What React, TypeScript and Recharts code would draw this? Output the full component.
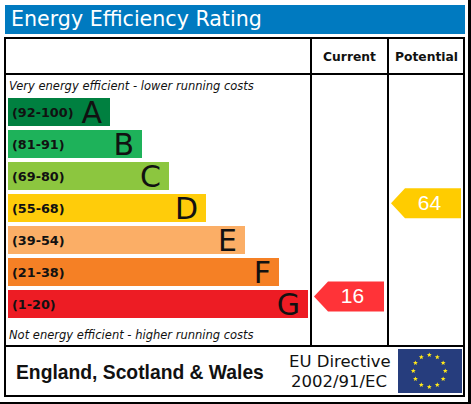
import { BarChart, Bar, Cell, LabelList, XAxis, YAxis, ScatterChart, Scatter } from "recharts";

const BAND_LETTERS = ["A", "B", "C", "D", "E", "F", "G"];
const BAND_RANGES = ["(92-100)", "(81-91)", "(69-80)", "(55-68)", "(39-54)", "(21-38)", "(1-20)"];
const BAND_LENGTHS = [102, 134, 161, 198, 237, 271, 300];
const BAND_COLORS = ["#008040", "#1eb25a", "#8cc63f", "#ffcc0a", "#fbae66", "#f58025", "#ed1c24"];

const RATING_COLUMNS = ["Current", "Potential"];
const RATING_SCORES = [16, 64];
const RATING_COLORS = ["#ff3338", "#ffcc00"];

const bandData = BAND_LETTERS.map((letter, i) => ({
  letter,
  range: BAND_RANGES[i],
  length: BAND_LENGTHS[i],
}));

const ratingData = RATING_COLUMNS.map((column, i) => ({
  column,
  score: RATING_SCORES[i],
  color: RATING_COLORS[i],
}));

const VERDANA = "'DejaVu Sans', sans-serif";
const ARIAL = "'Liberation Sans', sans-serif";

function RatingFlag(props: any) {
  const { cx, cy, payload } = props;
  const left = cx - 35.5;
  const right = cx + 34.5;
  const points = [
    [left, cy],
    [left + 14, cy - 15],
    [right, cy - 15],
    [right, cy + 15],
    [left + 14, cy + 15],
  ];
  return (
    <g>
      <polygon points={points.map((p) => p.join(",")).join(" ")} fill={payload.color} />
      <text x={cx + 3} y={cy + 7} textAnchor="middle" fill="#fff" fontSize={21} fontFamily={ARIAL}>
        {payload.score}
      </text>
    </g>
  );
}

function EuFlag() {
  const stars = Array.from({ length: 12 }, (_, i) => {
    const a = (i * Math.PI) / 6;
    const cx = 31.3 + 16 * Math.sin(a);
    const cy = 22 - 16 * Math.cos(a);
    const pts = Array.from({ length: 10 }, (_, k) => {
      const r = k % 2 === 0 ? 2.6 : 1.1;
      const t = (k * Math.PI) / 5;
      return `${cx + r * Math.sin(t)},${cy - r * Math.cos(t)}`;
    });
    return pts.join(" ");
  });
  return (
    <svg width={64} height={44} style={{ position: "absolute", left: 398, top: 349 }}>
      <rect width={64} height={44} fill="#263d7d" />
      {stars.map((s, i) => (
        <polygon key={i} points={s} fill="#ffe81a" />
      ))}
    </svg>
  );
}

function Line({ x, y, w, h }: { x: number; y: number; w: number; h: number }) {
  return <div style={{ position: "absolute", left: x, top: y, width: w, height: h, background: "#000" }} />;
}

function Label({ x, y, text, style }: { x: number; y: number; text: string; style: React.CSSProperties }) {
  return (
    <div style={{ position: "absolute", left: x, top: y, whiteSpace: "nowrap", lineHeight: 1, ...style }}>{text}</div>
  );
}

export default function App() {
  return (
    <div style={{ position: "absolute", left: 0, top: 0, width: 471, height: 404, background: "#fff", overflow: "hidden" }}>
      {/* title strip */}
      <div style={{ position: "absolute", left: 5, top: 5, width: 460, height: 29, background: "#007ac0" }} />
      <Label x={11} y={9} text="Energy Efficiency Rating" style={{ color: "#fff", fontFamily: VERDANA, fontSize: 20.6 }} />

      {/* outer edges and table rules */}
      <Line x={468} y={0} w={3} h={404} />
      <Line x={0} y={402} w={471} h={2} />
      <Line x={4} y={37} w={461} h={2} />
      <Line x={4} y={37} w={2} h={360} />
      <Line x={463} y={37} w={2} h={360} />
      <Line x={4} y={395} w={461} h={2} />
      <Line x={4} y={73} w={461} h={2} />
      <Line x={4} y={345} w={461} h={2} />
      <Line x={310} y={37} w={2} h={310} />
      <Line x={387} y={37} w={2} h={310} />

      <Label x={9} y={81} text="Very energy efficient - lower running costs" style={{ fontFamily: VERDANA, fontStyle: "italic", fontSize: 11.5, color: "#111" }} />
      <Label x={9} y={330} text="Not energy efficient - higher running costs" style={{ fontFamily: VERDANA, fontStyle: "italic", fontSize: 11.5, color: "#111" }} />

      <div style={{ position: "absolute", left: 8, top: 88 }}>
        <BarChart
          width={308}
          height={240}
          layout="vertical"
          data={bandData}
          margin={{ top: 8, right: 8, bottom: 8, left: 0 }}
        >
          <XAxis type="number" domain={[0, 300]} hide />
          <YAxis type="category" dataKey="letter" hide />
          <Bar dataKey="length" barSize={28} isAnimationActive={false}>
            {bandData.map((d, i) => (
              <Cell key={d.letter} fill={BAND_COLORS[i]} />
            ))}
            <LabelList dataKey="range" position="insideLeft" offset={4} fill="#111" fontSize={12.8} fontWeight="bold" fontFamily={VERDANA} />
            <LabelList dataKey="letter" position="insideRight" offset={8} fill="#111" fontSize={30} fontFamily={VERDANA} />
          </Bar>
        </BarChart>
      </div>

      <div style={{ position: "absolute", left: 311, top: 39 }}>
        <ScatterChart width={154} height={308} margin={{ top: 0, right: 0, bottom: 0, left: 0 }}>
          <XAxis
            xAxisId={0}
            type="category"
            dataKey="column"
            orientation="top"
            height={36}
            scale="band"
            allowDuplicatedCategory={false}
            axisLine={false}
            tickLine={false}
            tick={{ fill: "#111", fontSize: 12.3, fontWeight: "bold", fontFamily: VERDANA }}
            tickMargin={8}
            interval={0}
          />
          <YAxis yAxisId={0} type="number" dataKey="score" domain={[-10, 130]} hide />
          <Scatter data={ratingData} shape={RatingFlag} isAnimationActive={false} />
        </ScatterChart>
      </div>

      {/* footer */}
      <Label x={16} y={363} text="England, Scotland & Wales" style={{ fontFamily: ARIAL, fontWeight: "bold", fontSize: 19.3, color: "#111" }} />
      <Label x={289} y={354} text="EU Directive" style={{ fontFamily: VERDANA, fontSize: 16.5, color: "#111" }} />
      <Label x={291} y={374} text="2002/91/EC" style={{ fontFamily: VERDANA, fontSize: 16.5, color: "#111" }} />
      <EuFlag />
    </div>
  );
}
